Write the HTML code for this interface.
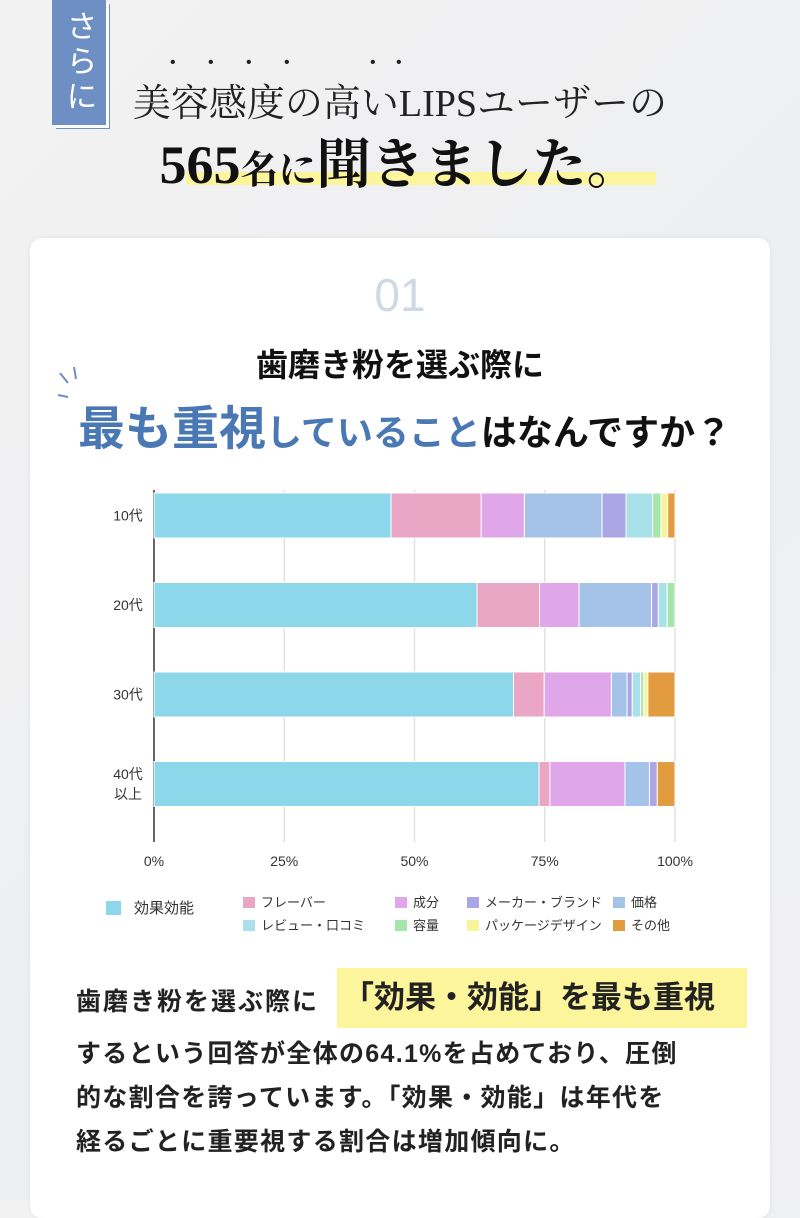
<!DOCTYPE html>
<html><head><meta charset="utf-8">
<style>
*{margin:0;padding:0;box-sizing:border-box}
body{width:800px;height:1200px;overflow:hidden;background:linear-gradient(135deg,#f3f2f2 0%,#eeeff1 50%,#f0f0f2 100%);font-family:"Liberation Sans","Noto Sans CJK JP",sans-serif;position:relative;color:#222}
.abs{position:absolute}
#badge{left:52px;top:0;width:54px;height:125px;background:#6d8fc4;color:#fff;font-size:31px;writing-mode:vertical-rl;display:flex;align-items:center;justify-content:center;letter-spacing:4px;box-shadow:3px 3px 0 #fff,4px 4px 0 #6d8fc4}
.serif{font-family:"Liberation Serif","Noto Serif CJK SC",serif}
#card{left:30px;top:238px;width:740px;height:980px;background:#fff;border-radius:12px;box-shadow:0 0 6px rgba(0,0,0,.06)}
.hl{background:#fdf59b}
</style></head><body>
<div id="badge" class="abs">さらに</div>
<div class="abs serif" style="left:0;width:800px;top:72px;text-align:center;font-size:38px;color:#222">美容感度の高いLIPSユーザーの</div>
<div class="abs" style="left:170px;top:54px;font-size:16px;color:#222"><span style="position:absolute;left:0">•</span><span style="position:absolute;left:38px">•</span><span style="position:absolute;left:76px">•</span><span style="position:absolute;left:114px">•</span><span style="position:absolute;left:200px">•</span><span style="position:absolute;left:226px">•</span></div>
<div class="abs hl" style="left:186px;top:172px;width:470px;height:13px"></div>
<div class="abs serif" style="left:0;width:800px;top:122px;text-align:center;font-size:54px;font-weight:bold;color:#111">565<span style="font-size:38px">名に</span>聞きました。</div>
<div id="card" class="abs"></div>
<div class="abs" style="left:0;width:800px;top:268px;text-align:center;font-size:46px;color:#cfd9e3;font-weight:300">01</div>
<div class="abs" style="left:0;width:800px;top:340px;text-align:center;font-size:32px;font-weight:bold;color:#111">歯磨き粉を選ぶ際に</div>
<svg class="abs" style="left:56px;top:365px" width="40" height="40"><g stroke="#6d8fc4" stroke-width="2"><line x1="4" y1="8" x2="12" y2="18"/><line x1="18" y1="2" x2="20" y2="14"/><line x1="2" y1="30" x2="12" y2="32"/></g></svg>
<div class="abs" style="left:78px;top:390px;white-space:nowrap;font-weight:bold;color:#111;font-size:36px"><span style="color:#4a78b5;font-size:47px">最も重視</span><span style="color:#4a78b5">していること</span>はなんですか？</div>

<svg class="abs" style="left:0;top:470px" width="800" height="480" id="chart"></svg>

<div class="abs hl" style="left:337px;top:968px;width:410px;height:60px;font-size:31px;font-weight:bold;line-height:60px;padding-left:6px;color:#222;white-space:nowrap">「効果・効能」を最も重視</div>
<div class="abs" style="left:76px;top:982px;font-size:25px;font-weight:bold;color:#222;letter-spacing:2px">歯磨き粉を選ぶ際に</div>
<div class="abs" style="left:76px;top:1032px;width:700px;font-size:25px;font-weight:bold;line-height:44px;color:#222;letter-spacing:1.3px;white-space:nowrap">するという回答が全体の64.1%を占めており、圧倒<br>的な割合を誇っています。「効果・効能」は年代を<br>経るごとに重要視する割合は増加傾向に。</div>

<script>
const categories=["10代","20代","30代","40代\n以上"];
const seriesNames=["効果効能","フレーバー","成分","価格","メーカー・ブランド","レビュー・口コミ","容量","パッケージデザイン","その他"];
const seriesColors=["#8dd7ea","#e9a6c5","#dfa7e9","#a5c3e8","#aaa6e4","#a9e1ea","#a6e6ab","#f8f49a","#e39b3f"];
const sKouka=[45.5,62.0,69.0,73.9];
const sFlavor=[17.3,12.0,5.9,2.1];
const sSeibun=[8.3,7.6,12.9,14.4];
const sKakaku=[14.9,13.9,3.0,4.7];
const sMaker=[4.6,1.3,1.0,1.5];
const sReview=[5.1,1.7,1.6,0];
const sYouryou=[1.6,1.5,0.6,0];
const sPackage=[1.3,0,0.8,0];
const sOther=[1.4,0,5.2,3.4];
const series=[sKouka,sFlavor,sSeibun,sKakaku,sMaker,sReview,sYouryou,sPackage,sOther];
const tickValues=[0,25,50,75,100];
const tickLabels=["0%","25%","50%","75%","100%"];
const legendLabels=["効果効能","フレーバー","成分","メーカー・ブランド","価格","レビュー・口コミ","容量","パッケージデザイン","その他"];
const legendColors=["#8dd7ea","#e9a6c5","#dfa7e9","#aaa6e4","#a5c3e8","#a9e1ea","#a6e6ab","#f8f49a","#e39b3f"];

const NS="http://www.w3.org/2000/svg";
const svg=document.getElementById('chart');
const X0=154,X1=675,TOP=20,ROW=89.5,BH=45;
const xs=v=>X0+(v/100)*(X1-X0);
const yb=i=>TOP+3+i*ROW;
function mk(t,a){const e=document.createElementNS(NS,t);for(const k in a)e.setAttribute(k,a[k]);svg.appendChild(e);return e;}
tickValues.forEach((v,i)=>{
  if(v>0){const g=mk('line',{x1:xs(v),x2:xs(v),y1:TOP,y2:372,stroke:'#e2e2e2','stroke-width':1.5});
  
  }
  const t=mk('text',{x:xs(v),y:396,'text-anchor':'middle','font-size':14,fill:'#333'});
  t.textContent=tickLabels[i];
  
  
});
const ax=mk('line',{x1:X0,x2:X0,y1:TOP,y2:372,stroke:'#666','stroke-width':2});


categories.forEach((c,i)=>{
  let acc=0;
  series.forEach((s,j)=>{
    const v=s[i];if(v<=0)return;
    const r=mk('rect',{x:xs(acc),y:yb(i),width:xs(acc+v)-xs(acc),height:BH,fill:seriesColors[j],stroke:'#fff','stroke-width':1});
    
    
    acc+=v;
  });
  const lines=c.split('\n');
  lines.forEach((ln,k)=>{
    const t=mk('text',{x:128,y:yb(i)+BH/2+5+(lines.length>1?(k-0.5)*20:0),'text-anchor':'middle','font-size':14,fill:'#333'});
    t.textContent=ln;
    
    
  });
});
(function(){
  const r=mk('rect',{x:106,y:431,width:15,height:14,fill:legendColors[0]});
  
  
  const t=mk('text',{x:134,y:443,'font-size':15,fill:'#333'});
  t.textContent=legendLabels[0];
  
  
  const cols=[243,395,467,613];
  for(let k=1;k<legendLabels.length;k++){
    const row=k<=4?0:1;const col=row==0?k-1:k-5;
    const y=row==0?437:460;
    const s=mk('rect',{x:cols[col],y:y-10,width:12,height:11,fill:legendColors[k]});
    
    
    const tx=mk('text',{x:cols[col]+18,y:y,'font-size':13,fill:'#333'});
    tx.textContent=legendLabels[k];
    
    
  }
})();
</script>
</body></html>
